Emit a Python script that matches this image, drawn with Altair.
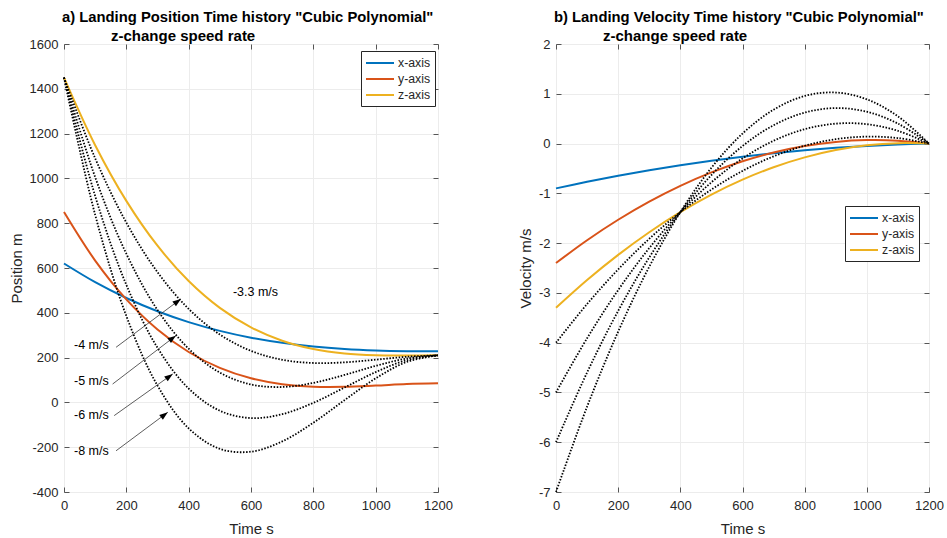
import altair as alt
import pandas as pd

# ---- time grid (s) ----
time_s = [0, 100, 200, 300, 400, 500, 600, 700, 800, 900, 1000, 1100, 1200]

# ---- landing position (m) ----
pos_x_axis = [620, 536.7, 466.0, 406.9, 358.4, 319.4, 289.0, 266.1, 249.6, 238.6, 232.0, 228.8, 228]
pos_y_axis = [850, 633.3, 460.0, 325.5, 225.0, 153.9, 107.5, 81.1, 70.0, 69.5, 75.0, 81.7, 85]
pos_z_axis = [1450, 1148.3, 899.8, 699.4, 541.9, 422.1, 335.0, 275.4, 238.1, 218.1, 210.2, 209.2, 210]
pos_z_v4 = [1450, 1089.5, 802.6, 581.3, 417.4, 303.0, 230.0, 190.3, 175.9, 178.8, 190.7, 203.8, 210]
pos_z_v5 = [1450, 1005.5, 663.7, 412.5, 239.6, 132.9, 80.0, 68.8, 87.0, 122.5, 163.0, 196.2, 210]
pos_z_v6 = [1450, 921.4, 524.8, 243.8, 61.9, -37.3, -70.0, -52.7, -1.9, 66.3, 135.2, 188.6, 210]
pos_z_v8 = [1450, 837.4, 385.9, 75.0, -115.9, -207.4, -220.0, -174.3, -90.7, 10.0, 107.4, 180.9, 210]

# ---- landing velocity (m/s) ----
vel_x_axis = [-0.9, -0.769, -0.647, -0.536, -0.436, -0.345, -0.265, -0.195, -0.136, -0.086, -0.047, -0.019, 0]
vel_y_axis = [-2.4, -1.942, -1.531, -1.167, -0.85, -0.580, -0.356, -0.180, -0.05, 0.033, 0.069, 0.058, 0]
vel_z_axis = [-3.3, -2.742, -2.236, -1.781, -1.378, -1.026, -0.725, -0.476, -0.278, -0.131, -0.036, 0.008, 0]
vel_z_v4 = [-4, -3.224, -2.528, -1.913, -1.378, -0.924, -0.55, -0.257, -0.044, 0.088, 0.139, 0.110, 0]
vel_z_v5 = [-5, -3.911, -2.944, -2.1, -1.378, -0.778, -0.3, 0.056, 0.289, 0.4, 0.389, 0.256, 0]
vel_z_v6 = [-6, -4.599, -3.361, -2.288, -1.378, -0.632, -0.05, 0.368, 0.622, 0.713, 0.639, 0.401, 0]
vel_z_v8 = [-7, -5.286, -3.778, -2.475, -1.378, -0.486, 0.2, 0.681, 0.956, 1.025, 0.889, 0.547, 0]

# ---- speed-rate annotations on the position plot ----
note_text = ["-3.3 m/s", "-4 m/s", "-5 m/s", "-6 m/s", "-8 m/s"]
note_time = [542, 32, 32, 32, 32]
note_pos = [493, 256, 97, -55, -216]

arrow_t0 = [167, 156, 161, 167]
arrow_p0 = [246, 82, -59, -216]
arrow_t1 = [375, 359, 349, 333]
arrow_p1 = [462, 298, 127, -44]
arrow_dir = [53, 53, 54, 53]

AXES = ["x-axis", "y-axis", "z-axis"]
COLORS = ["#0072BD", "#D95319", "#EDB120"]
FONT = "Liberation Sans"
SUBTITLE = "z-change speed rate"


def long_frame(solid, dotted):
    rows = []
    for name, vals in solid.items():
        rows += [{"time": t, "value": v, "series": name, "style": "solid"} for t, v in zip(time_s, vals)]
    for name, vals in dotted.items():
        rows += [{"time": t, "value": v, "series": name, "style": "dotted"} for t, v in zip(time_s, vals)]
    return pd.DataFrame(rows)


pos_df = long_frame(
    {"x-axis": pos_x_axis, "y-axis": pos_y_axis, "z-axis": pos_z_axis},
    {"v4": pos_z_v4, "v5": pos_z_v5, "v6": pos_z_v6, "v8": pos_z_v8},
)
vel_df = long_frame(
    {"x-axis": vel_x_axis, "y-axis": vel_y_axis, "z-axis": vel_z_axis},
    {"v4": vel_z_v4, "v5": vel_z_v5, "v6": vel_z_v6, "v8": vel_z_v8},
)
note_df = pd.DataFrame({"label": note_text, "t": note_time, "p": note_pos})
arrow_df = pd.DataFrame({"t0": arrow_t0, "p0": arrow_p0, "t1": arrow_t1, "p1": arrow_p1, "ang": arrow_dir})
subtitle_df = pd.DataFrame({"text": [SUBTITLE]})

X_TICKS = list(range(0, 1201, 200))
PLAIN = "'' + datum.value"


def panel(df, y_dom, y_ticks, y_title, title, title_dx, leg_x, leg_y, width, extras=()):
    xs = alt.Scale(domain=[0, 1200], nice=False, zero=False)
    ys = alt.Scale(domain=y_dom, nice=False, zero=False)

    solid = alt.Chart(df).transform_filter(alt.datum.style == "solid").mark_line(
        strokeWidth=2, interpolate="catmull-rom"
    ).encode(
        x=alt.X("time:Q", scale=xs, axis=alt.Axis(
            orient="bottom", values=X_TICKS, offset=-5, tickSize=5, domain=False,
            grid=True, labelPadding=7, labelExpr=PLAIN, labelFlush=False,
            title="Time s", titlePadding=9)),
        y=alt.Y("value:Q", scale=ys, axis=alt.Axis(
            orient="left", values=y_ticks, offset=-5, tickSize=5, domain=False,
            grid=True, labelPadding=6, labelExpr=PLAIN, labelFlush=False,
            title=y_title, titlePadding=5)),
        color=alt.Color("series:N", scale=alt.Scale(domain=AXES, range=COLORS), legend=alt.Legend(
            orient="none", legendX=leg_x, legendY=leg_y, title=None,
            symbolType="M-1,0L3,0", symbolSize=196, symbolStrokeWidth=2,
            labelOffset=17, labelFontSize=12.3, labelFont=FONT, labelColor="#262626",
            fillColor="white", strokeColor="#262626", padding=4, rowPadding=1,
        )),
    )

    dotted = alt.Chart(df).transform_filter(alt.datum.style == "dotted").mark_line(
        color="black", strokeWidth=1.8, strokeDash=[1.5, 1.6], interpolate="catmull-rom"
    ).encode(
        x=alt.X("time:Q", scale=xs, axis=alt.Axis(
            orient="top", values=X_TICKS, offset=-5, tickSize=5, domain=False,
            grid=False, labels=False, title=None)),
        y=alt.Y("value:Q", scale=ys, axis=alt.Axis(
            orient="right", values=y_ticks, offset=-5, tickSize=5, domain=False,
            grid=False, labels=False, title=None)),
        detail="series:N",
    )

    # second heading line, set in from the left edge of the plot
    sub = alt.Chart(subtitle_df).mark_text(
        align="left", baseline="middle", fontSize=15, fontWeight="bold", font=FONT, color="black"
    ).encode(x=alt.value(47), y=alt.value(-8), text="text:N")

    layers = [solid, dotted] + [make(xs, ys) for make in extras] + [sub]
    return alt.layer(*layers).resolve_axis(x="independent", y="independent").properties(
        width=width, height=448,
        title=alt.TitleParams(
            text=title, anchor="start", frame="group", dx=title_dx,
            fontSize=14.8, fontWeight="bold", font=FONT, color="black", offset=4,
        ),
    )


def notes(xs, ys):
    return alt.Chart(note_df).mark_text(
        align="left", baseline="middle", fontSize=12.5, font=FONT, color="black"
    ).encode(
        x=alt.X("t:Q", scale=xs, axis=None),
        y=alt.Y("p:Q", scale=ys, axis=None),
        text="label:N",
    )


def arrow_lines(xs, ys):
    return alt.Chart(arrow_df).mark_rule(color="#333333", strokeWidth=0.8).encode(
        x=alt.X("t0:Q", scale=xs, axis=None),
        y=alt.Y("p0:Q", scale=ys, axis=None),
        x2="t1:Q",
        y2="p1:Q",
    )


def arrow_heads(xs, ys):
    return alt.Chart(arrow_df).mark_point(
        shape="M0,0L0.5,1.4L-0.5,1.4Z", filled=True, color="black", opacity=1, size=144
    ).encode(
        x=alt.X("t1:Q", scale=xs, axis=None),
        y=alt.Y("p1:Q", scale=ys, axis=None),
        angle=alt.Angle("ang:Q", scale=None),
    )


left = panel(
    pos_df, [-400, 1600], list(range(-400, 1601, 200)), "Position m",
    'a) Landing Position Time history "Cubic Polynomial"', -2,
    297, 7, 374, extras=(arrow_lines, arrow_heads, notes),
)
right = panel(
    vel_df, [-7, 2], list(range(-7, 3)), "Velocity m/s",
    'b) Landing Velocity Time history "Cubic Polynomial"', -2,
    289, 162, 373,
)

chart = alt.hconcat(left, right, spacing=64).resolve_scale(color="independent").properties(
    padding={"left": 8, "top": 9, "right": 0, "bottom": 2}
).configure(font=FONT).configure_view(
    stroke="#6e6e6e", strokeWidth=1
).configure_axis(
    labelFont=FONT, labelFontSize=13, labelColor="#262626",
    titleFont=FONT, titleFontSize=15, titleFontWeight="normal", titleColor="#262626",
    tickColor="#555555", gridColor="#ececec", gridWidth=1,
)

chart.save("out.html", embed_options={"renderer": "svg", "actions": False})
